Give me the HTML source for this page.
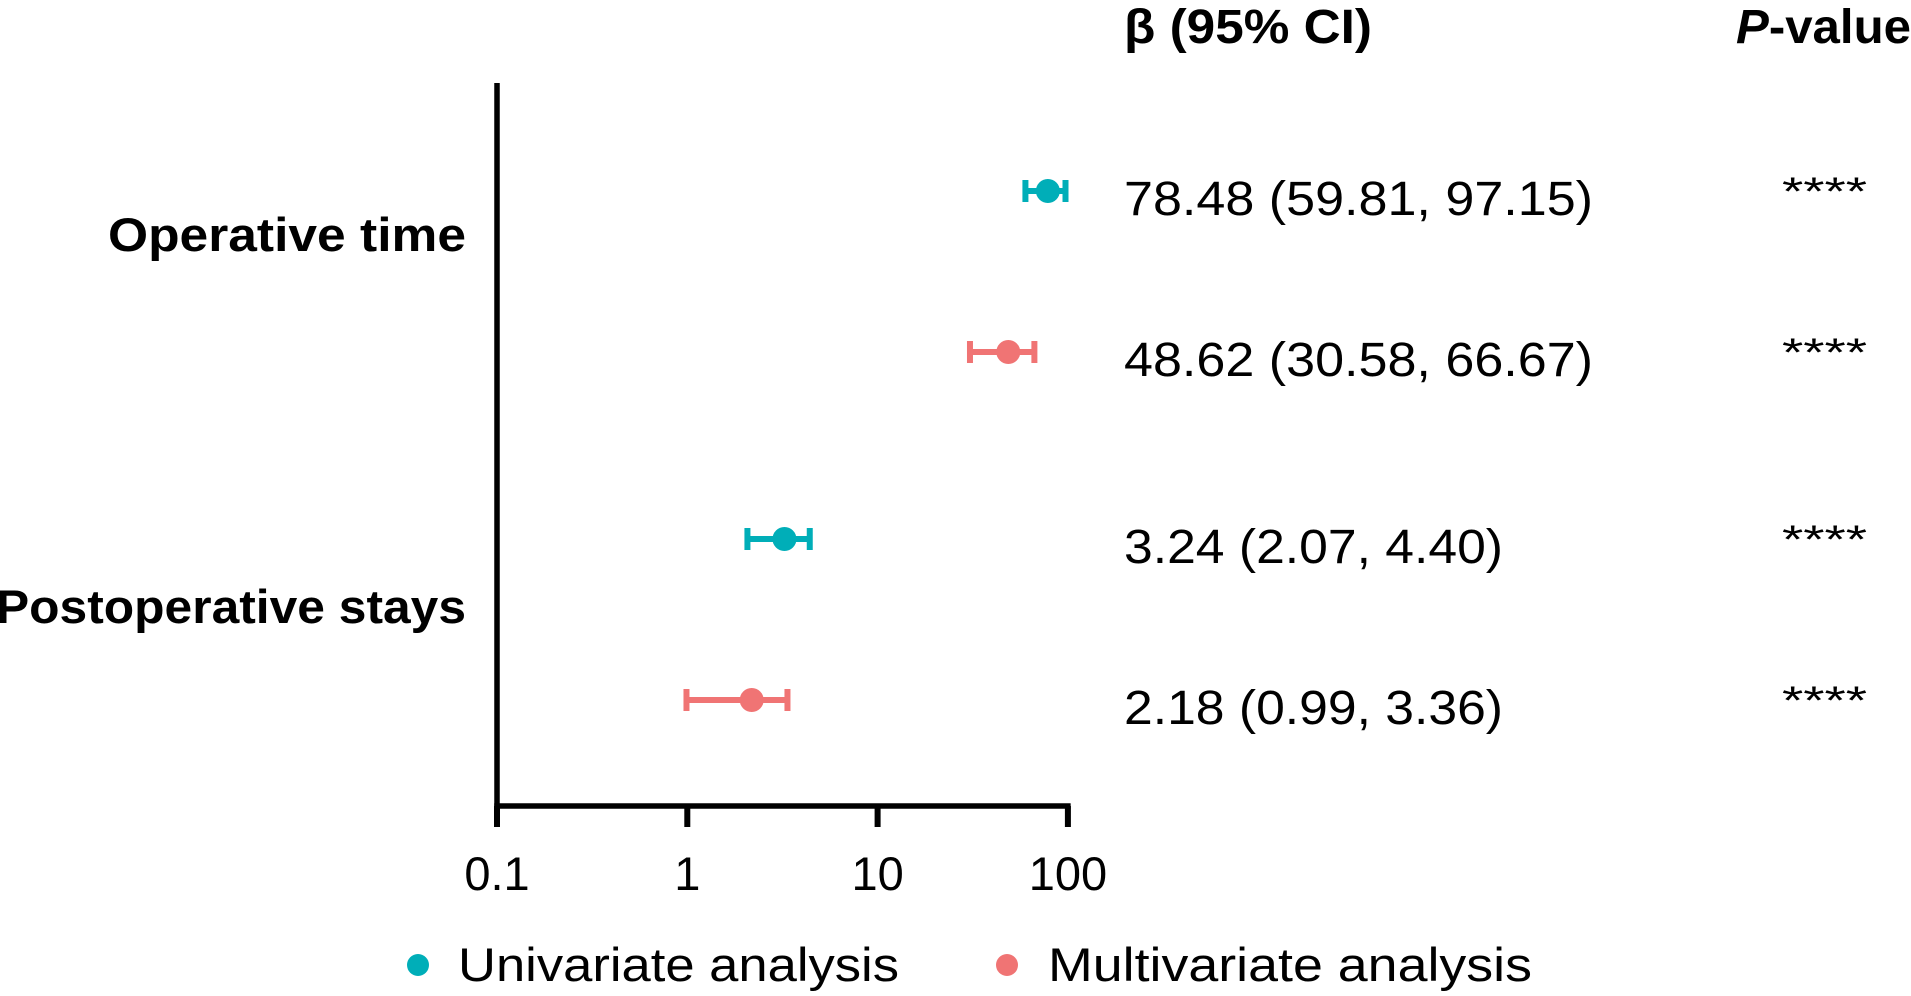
<!DOCTYPE html>
<html><head><meta charset="utf-8"><style>
html,body{margin:0;padding:0;background:#fff;}
svg{display:block;font-family:"Liberation Sans",sans-serif;}
</style></head><body>
<svg id="chart" width="1911" height="996" viewBox="0 0 1911 996" xmlns="http://www.w3.org/2000/svg">
<g id="axes"></g>
<g id="marks"></g>
<g id="table"></g>
<g id="legend">
  <circle cx="418" cy="965" r="11" fill="#00AEB8"/>
  <text x="458" y="981" font-size="47" textLength="441" lengthAdjust="spacingAndGlyphs" fill="#000">Univariate analysis</text>
  <circle cx="1007" cy="965" r="11" fill="#F07474"/>
  <text x="1048" y="981" font-size="47" textLength="484" lengthAdjust="spacingAndGlyphs" fill="#000">Multivariate analysis</text>
</g>
</svg>
<script>
const ticks = [0.1, 1, 10, 100];
const tickLabels = ["0.1", "1", "10", "100"];
const categories = ["Operative time", "Postoperative stays"];
const rowLabels = ["Operative time - Univariate", "Operative time - Multivariate", "Postoperative stays - Univariate", "Postoperative stays - Multivariate"];
const series = ["univariate", "multivariate", "univariate", "multivariate"];
const estimates = [78.48, 48.62, 3.24, 2.18];
const lower = [59.81, 30.58, 2.07, 0.99];
const upper = [97.15, 66.67, 4.40, 3.36];
const ciText = ["78.48 (59.81, 97.15)", "48.62 (30.58, 66.67)", "3.24 (2.07, 4.40)", "2.18 (0.99, 3.36)"];
const pText = ["****", "****", "****", "****"];

const NS = "http://www.w3.org/2000/svg";
const colors = {univariate: "#00AEB8", multivariate: "#F07474"};
const X0 = 497, DEC = 190.3;
function xScale(v){ return X0 + (Math.log10(v) + 1) * DEC; }
// rows: two per category; within-group gap 161px, group gap 349px
function yScale(i){ const g = Math.floor(i / 2), k = i % 2; return 191 + g * 348 + k * 161; }
function mk(tag, attrs, parent){ const e = document.createElementNS(NS, tag); for (const k in attrs) e.setAttribute(k, attrs[k]); parent.appendChild(e); return e; }

const axes = document.getElementById('axes');
const yAxis = mk('line', {x1: X0, y1: 83, x2: X0, y2: 806, stroke: '#000', 'stroke-width': 5.5}, axes);


const xAxis = mk('line', {x1: X0 - 2.75, y1: 806, x2: xScale(100) + 2.75, y2: 806, stroke: '#000', 'stroke-width': 5.5}, axes);


ticks.forEach((t, i) => {
  const x = xScale(t);
  const tk = mk('line', {x1: x, y1: 806, x2: x, y2: 827, stroke: '#000', 'stroke-width': 6}, axes);
  
  
  const tl = mk('text', {x: x, y: 890, 'font-size': 47, 'text-anchor': 'middle', fill: '#000'}, axes);
  tl.textContent = tickLabels[i];
  
  
});
const catY = [234, 606];
const catW = [358, 470];
categories.forEach((c, i) => {
  const t = mk('text', {x: 466, y: catY[i] + 17, 'font-size': 47, 'font-weight': 'bold', 'text-anchor': 'end', fill: '#000', textLength: catW[i], lengthAdjust: 'spacingAndGlyphs'}, axes);
  t.textContent = c;
  
  
});

const marks = document.getElementById('marks');
estimates.forEach((v, i) => {
  const y = yScale(i), col = colors[series[i]];
  const g = mk('g', {}, marks);
  
  
  const x1 = xScale(lower[i]), x2 = xScale(upper[i]);
  const ln = mk('line', {x1: x1, y1: y, x2: x2, y2: y, stroke: col, 'stroke-width': 6}, g);
  
  
  [x1, x2].forEach(xx => {
    const cap = mk('line', {x1: xx, y1: y - 11, x2: xx, y2: y + 11, stroke: col, 'stroke-width': 6}, g);
    
    
  });
  const pt = mk('circle', {cx: xScale(v), cy: y, r: 12, fill: col}, g);
  
  
});

const table = document.getElementById('table');
const h1 = mk('text', {x: 1124, y: 43, 'font-size': 48, 'font-weight': 'bold', fill: '#000', textLength: 248, lengthAdjust: 'spacingAndGlyphs'}, table);
h1.textContent = "β (95% CI)";


const h2 = mk('text', {x: 1736, y: 43, 'font-size': 48, 'font-weight': 'bold', fill: '#000', textLength: 175, lengthAdjust: 'spacingAndGlyphs'}, table);
h2.innerHTML = '<tspan font-style="italic">P</tspan>-value';


const ciW = [469, 469, 379, 379];
ciText.forEach((s, i) => {
  const y = yScale(i);
  const t = mk('text', {x: 1124, y: y + 24, 'font-size': 48, fill: '#000', textLength: ciW[i], lengthAdjust: 'spacingAndGlyphs'}, table);
  t.textContent = s;
  
  
  const p = mk('text', {x: 1782, y: y + 14, 'font-size': 40, fill: '#000', textLength: 85, lengthAdjust: 'spacingAndGlyphs'}, table);
  p.textContent = pText[i];
  
  
});
</script>
</body></html>
